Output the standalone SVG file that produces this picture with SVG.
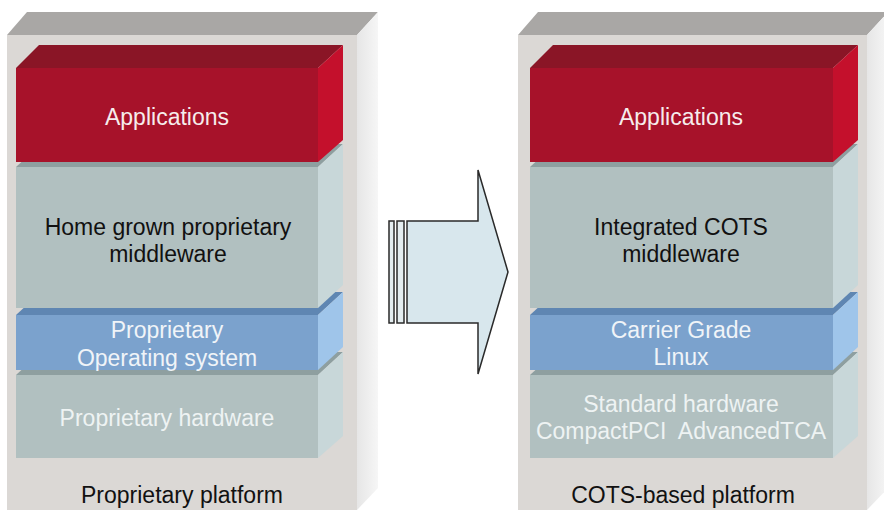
<svg xmlns="http://www.w3.org/2000/svg" width="884" height="517" viewBox="0 0 884 517">
<defs>
<linearGradient id="sideG" x1="0" y1="0" x2="1" y2="0">
<stop offset="0" stop-color="#e6e6e6"/><stop offset="1" stop-color="#f6f6f6"/>
</linearGradient>
</defs>
<style>
.t{font-family:"Liberation Sans",Arial,sans-serif;font-size:23px;text-anchor:middle}
.w{fill:#f6ecec}
.k{fill:#111}
.lw{fill:#f0f4f8}
.hw{fill:#eef3f3}
.ofront{fill:#dbd8d5}
.otop{fill:#a9a7a5}
.oside{fill:url(#sideG)}
.rfront{fill:#a7122a}
.rtop{fill:#8a1526}
.rside{fill:#c4102c}
.gfront{fill:#b1c0c0}
.gtop{fill:#8e9fa0}
.gside{fill:#c8d7d9}
.bfront{fill:#7ba2cd}
.btop{fill:#5f86b2}
.bside{fill:#9fc5ea}
</style>
<rect width="884" height="517" fill="#ffffff"/>

<g id="proprietary-platform">
<polygon class="otop" points="7,35 27,12 378,12 357,35"/>
<polygon class="oside" points="357,35 378,12 378,488 357,510"/>
<rect class="ofront" x="7" y="35" width="350" height="475"/>
<text class="t k" x="182" y="503">Proprietary platform</text>
</g>
<g id="proprietary-hardware">
<polygon class="gtop" points="16,375 41,352 343,352 318,375"/>
<polygon class="gside" points="318,375 343,352 343,436 318,458"/>
<rect class="gfront" x="16" y="375" width="302" height="83"/>
<text class="t hw" x="167" y="426">Proprietary hardware</text>
</g>
<g id="proprietary-os">
<polygon class="btop" points="16,315 41,292 343,292 318,315"/>
<polygon class="bside" points="318,315 343,292 343,347 318,370"/>
<rect class="bfront" x="16" y="315" width="302" height="55"/>
<text class="t lw" x="167" y="338">Proprietary</text>
<text class="t lw" x="167" y="366">Operating system</text>
</g>
<g id="proprietary-middleware">
<polygon class="gtop" points="16,167 41,144 343,144 318,167"/>
<polygon class="gside" points="318,167 343,144 343,285 318,308"/>
<rect class="gfront" x="16" y="167" width="302" height="141"/>
<text class="t k" x="168" y="235">Home grown proprietary</text>
<text class="t k" x="168" y="262">middleware</text>
</g>
<g id="proprietary-applications">
<polygon class="rtop" points="16,68 39,45 343,45 318,68"/>
<polygon class="rside" points="318,68 343,45 343,140 318,162"/>
<rect class="rfront" x="16" y="68" width="302" height="94"/>
<text class="t w" x="167" y="125">Applications</text>
</g>

<g id="cots-platform">
<polygon class="otop" points="518,35 538,12 888,12 867,35"/>
<polygon class="oside" points="867,35 888,12 888,488 867,510"/>
<rect class="ofront" x="518" y="35" width="349" height="475"/>
<text class="t k" x="683" y="503">COTS-based platform</text>
</g>
<g id="standard-hardware">
<polygon class="gtop" points="530,375 555,352 858,352 833,375"/>
<polygon class="gside" points="833,375 858,352 858,436 833,458"/>
<rect class="gfront" x="530" y="375" width="303" height="83"/>
<text class="t hw" x="681" y="412">Standard hardware</text>
<text class="t hw" x="681" y="439" xml:space="preserve">CompactPCI  AdvancedTCA</text>
</g>
<g id="carrier-grade-linux">
<polygon class="btop" points="530,315 555,292 858,292 833,315"/>
<polygon class="bside" points="833,315 858,292 858,347 833,370"/>
<rect class="bfront" x="530" y="315" width="303" height="55"/>
<text class="t lw" x="681" y="338">Carrier Grade</text>
<text class="t lw" x="681" y="365">Linux</text>
</g>
<g id="cots-middleware">
<polygon class="gtop" points="530,167 555,144 858,144 833,167"/>
<polygon class="gside" points="833,167 858,144 858,285 833,308"/>
<rect class="gfront" x="530" y="167" width="303" height="141"/>
<text class="t k" x="681" y="235">Integrated COTS</text>
<text class="t k" x="681" y="262">middleware</text>
</g>
<g id="cots-applications">
<polygon class="rtop" points="530,68 553,45 858,45 833,68"/>
<polygon class="rside" points="833,68 858,45 858,140 833,162"/>
<rect class="rfront" x="530" y="68" width="303" height="94"/>
<text class="t w" x="681" y="125">Applications</text>
</g>

<g id="connectors" stroke="#2a2a2a" stroke-width="1.5" stroke-linejoin="miter">
<rect x="389" y="221" width="5" height="102" fill="#e4edf0"/>
<rect x="397" y="221" width="7" height="102" fill="#e4edf0"/>
<polygon points="407,221 478,221 478,170 508,272 478,374 478,323 407,323" fill="#d8e7ed"/>
</g>
</svg>
